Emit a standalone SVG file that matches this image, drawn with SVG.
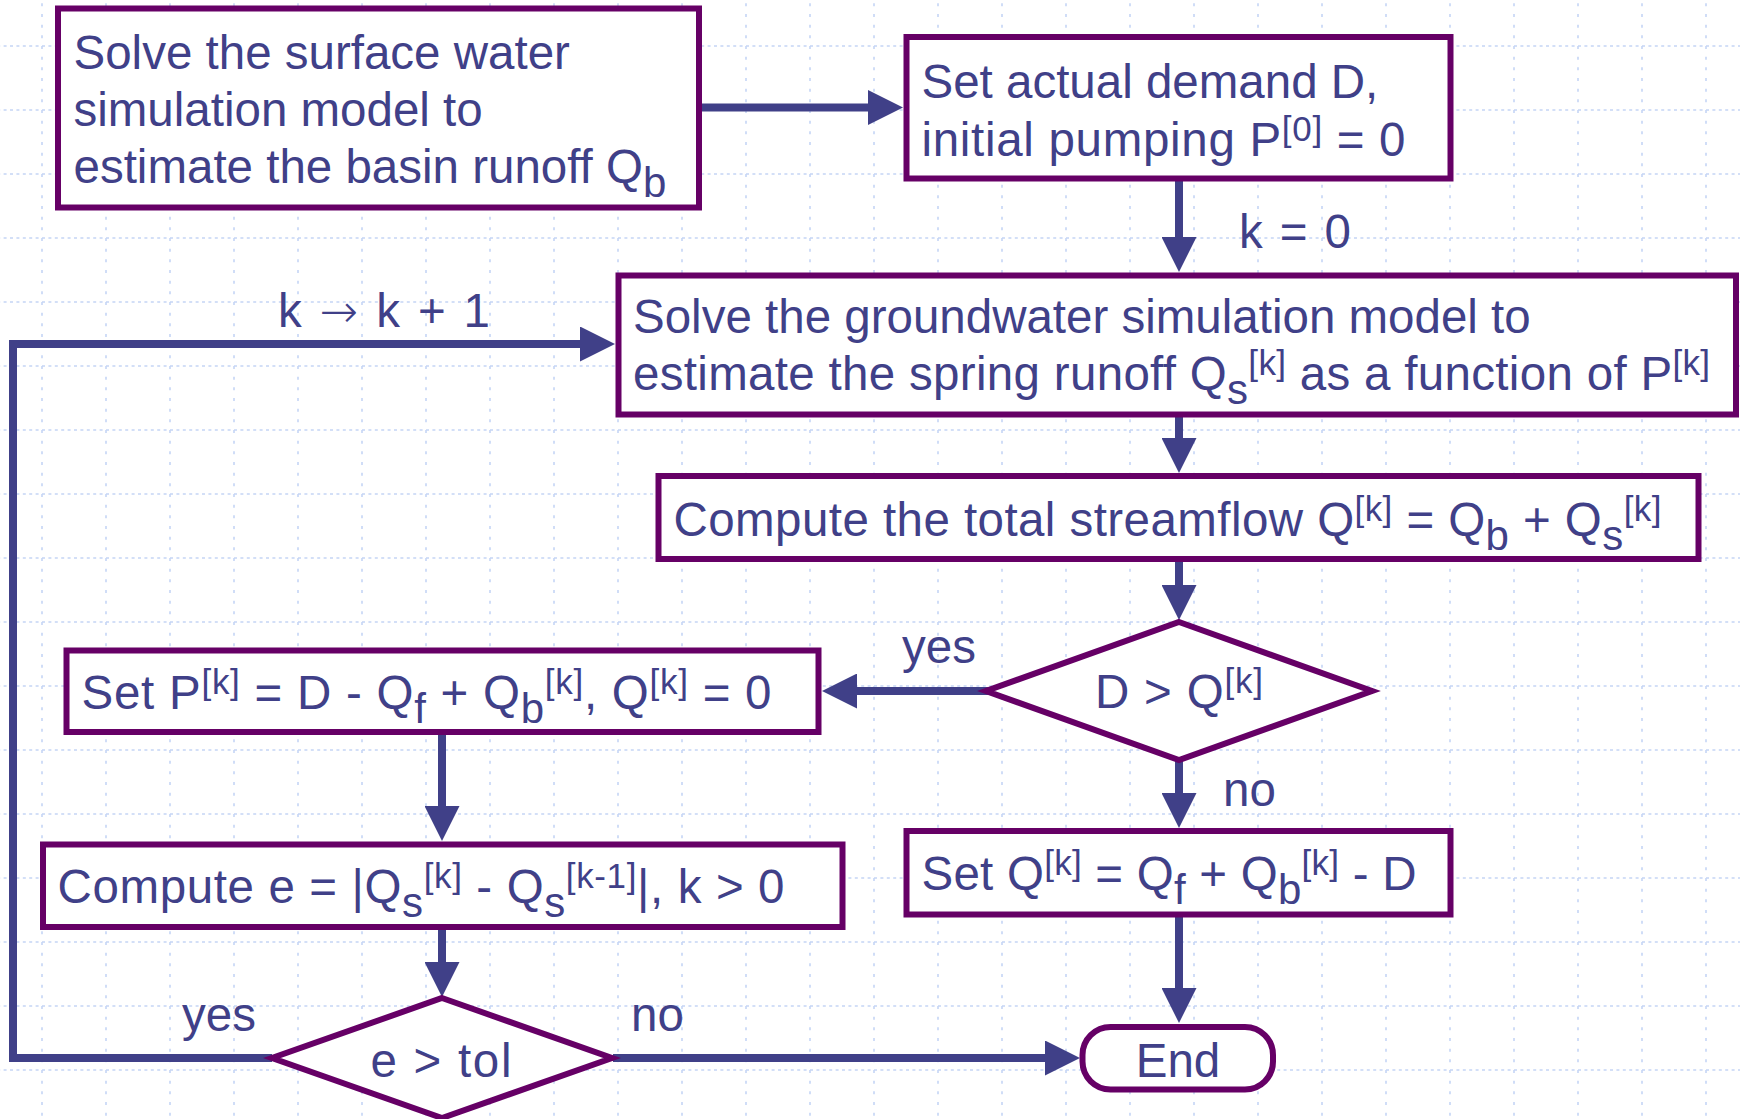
<svg xmlns="http://www.w3.org/2000/svg" width="1740" height="1119" viewBox="0 0 1740 1119">
<style>
.box{fill:#ffffff;stroke:#660066;stroke-width:6}
.t{font-family:"Liberation Sans",Arial,sans-serif;font-size:47.5px;fill:#404088}
.sup{font-size:35px}
.sub{font-size:42px}
.arr{font-family:"DejaVu Sans",sans-serif;font-size:46px;font-weight:200}
.c{fill:none;stroke:#404088;stroke-width:8}
</style>
<defs>
<pattern id="grid" patternUnits="userSpaceOnUse" x="10" y="14" width="64" height="64">
<line x1="0" y1="32" x2="64" y2="32" stroke="#c5d5f5" stroke-width="1.6" stroke-dasharray="3 3.4"/>
<line x1="32" y1="0" x2="32" y2="64" stroke="#c5d5f5" stroke-width="1.6" stroke-dasharray="3 7.67"/>
</pattern>
<marker id="ah" markerUnits="userSpaceOnUse" markerWidth="35" markerHeight="35" refX="5" refY="17.5" orient="auto" viewBox="0 0 35 35">
<path d="M0,0 L35,17.5 L0,35 z" fill="#404088"/>
</marker>
</defs>
<rect width="1740" height="1119" fill="#ffffff"/>
<rect width="1740" height="1119" fill="url(#grid)"/>

<g id="connectors">
<line class="c" x1="701" y1="107.5" x2="873" y2="107.5" marker-end="url(#ah)"/>
<line class="c" x1="1179" y1="181" x2="1179" y2="242" marker-end="url(#ah)"/>
<line class="c" x1="1179" y1="417" x2="1179" y2="443" marker-end="url(#ah)"/>
<line class="c" x1="1179" y1="562" x2="1179" y2="590" marker-end="url(#ah)"/>
<line class="c" x1="988" y1="691" x2="852" y2="691" marker-end="url(#ah)"/>
<line class="c" x1="1179" y1="760" x2="1179" y2="798" marker-end="url(#ah)"/>
<line class="c" x1="442" y1="735" x2="442" y2="811" marker-end="url(#ah)"/>
<line class="c" x1="442" y1="930" x2="442" y2="967" marker-end="url(#ah)"/>
<line class="c" x1="613" y1="1058" x2="1050" y2="1058" marker-end="url(#ah)"/>
<line class="c" x1="1179" y1="917" x2="1179" y2="993" marker-end="url(#ah)"/>
<polyline class="c" points="272,1058 13,1058 13,344 585,344" marker-end="url(#ah)"/>
<text class="t" x="1239" y="248" textLength="112">k = 0</text>
<text class="t" x="278" y="327" textLength="212">k <tspan class="arr">→</tspan> k + 1</text>
<text class="t" x="902" y="663">yes</text>
<text class="t" x="1223" y="806">no</text>
<text class="t" x="182" y="1031">yes</text>
<text class="t" x="631" y="1031">no</text>
</g>

<g id="n1">
<rect class="box" x="58" y="8.5" width="641" height="199"/>
<text class="t" x="73.5" y="69">Solve the surface water</text>
<text class="t" x="73.5" y="126">simulation model to</text>
<text class="t" x="73.5" y="183">estimate the basin runoff Q<tspan class="sub" dy="14">b</tspan></text>
</g>

<g id="n2">
<rect class="box" x="906.5" y="37" width="544" height="141.5"/>
<text class="t" x="921.5" y="98">Set actual demand D,</text>
<text class="t" x="921.5" y="155.5" textLength="484">initial pumping P<tspan class="sup" dy="-15">[0]</tspan><tspan dy="15"> = 0</tspan></text>
</g>

<g id="n3">
<rect class="box" x="618.5" y="275.5" width="1117.5" height="139"/>
<text class="t" x="633" y="333">Solve the groundwater simulation model to</text>
<text class="t" x="633" y="390" textLength="1077">estimate the spring runoff Q<tspan class="sub" dy="14">s</tspan><tspan class="sup" dy="-29">[k]</tspan><tspan dy="15"> as a function of P</tspan><tspan class="sup" dy="-15">[k]</tspan></text>
</g>

<g id="n4">
<rect class="box" x="658.5" y="476" width="1040" height="83"/>
<text class="t" x="673.5" y="535.5" textLength="988">Compute the total streamflow Q<tspan class="sup" dy="-15">[k]</tspan><tspan dy="15"> = Q</tspan><tspan class="sub" dy="14">b</tspan><tspan dy="-14"> + Q</tspan><tspan class="sub" dy="14">s</tspan><tspan class="sup" dy="-29">[k]</tspan></text>
</g>

<g id="d1">
<polygon class="box" points="1179,622 1372,691 1179,760 986,691"/>
<text class="t" x="1179" y="708" text-anchor="middle" textLength="168">D &gt; Q<tspan class="sup" dy="-15">[k]</tspan></text>
</g>

<g id="n5">
<rect class="box" x="66.5" y="650.5" width="752" height="81.5"/>
<text class="t" x="81.5" y="709" textLength="690">Set P<tspan class="sup" dy="-15">[k]</tspan><tspan dy="15"> = D - Q</tspan><tspan class="sub" dy="14">f</tspan><tspan dy="-14"> + Q</tspan><tspan class="sub" dy="14">b</tspan><tspan class="sup" dy="-29">[k]</tspan><tspan dy="15">, Q</tspan><tspan class="sup" dy="-15">[k]</tspan><tspan dy="15"> = 0</tspan></text>
</g>

<g id="n6">
<rect class="box" x="43" y="844.5" width="799.5" height="82.5"/>
<text class="t" x="57.5" y="903" textLength="727">Compute e = |Q<tspan class="sub" dy="14">s</tspan><tspan class="sup" dy="-29">[k]</tspan><tspan dy="15"> - Q</tspan><tspan class="sub" dy="14">s</tspan><tspan class="sup" dy="-29">[k-1]</tspan><tspan dy="15">|, k &gt; 0</tspan></text>
</g>

<g id="d2">
<polygon class="box" points="442,998 612,1058 442,1118 272,1058"/>
<text class="t" x="441" y="1076.5" text-anchor="middle" textLength="141">e &gt; tol</text>
</g>

<g id="n7">
<rect class="box" x="906.5" y="831" width="544" height="83.5"/>
<text class="t" x="921.5" y="890" textLength="495">Set Q<tspan class="sup" dy="-15">[k]</tspan><tspan dy="15"> = Q</tspan><tspan class="sub" dy="14">f</tspan><tspan dy="-14"> + Q</tspan><tspan class="sub" dy="14">b</tspan><tspan class="sup" dy="-29">[k]</tspan><tspan dy="15"> - D</tspan></text>
</g>

<g id="end">
<rect class="box" x="1082.5" y="1027" width="190.5" height="62.5" rx="28" ry="28"/>
<text class="t" x="1178" y="1077" text-anchor="middle">End</text>
</g>
</svg>
